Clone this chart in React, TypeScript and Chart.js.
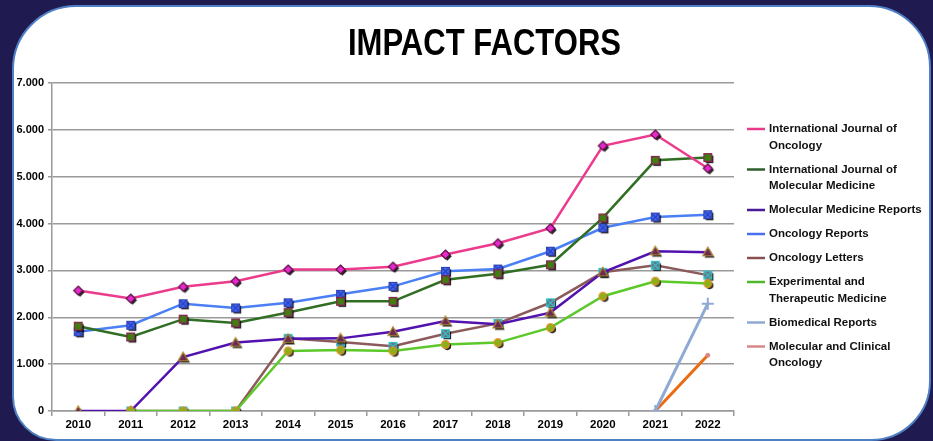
import React, { useEffect, useRef } from "react";
import { Chart, registerables } from "chart.js";

Chart.register(...registerables);

const years = ["2010", "2011", "2012", "2013", "2014", "2015", "2016", "2017", "2018", "2019", "2020", "2021", "2022"];

const seriesNames = [
  "International Journal of Oncology",
  "International Journal of Molecular Medicine",
  "Molecular Medicine Reports",
  "Oncology Reports",
  "Oncology Letters",
  "Experimental and Therapeutic Medicine",
  "Biomedical Reports",
  "Molecular and Clinical Oncology",
];

const legendLines = [
  ["International Journal of", "Oncology"],
  ["International Journal of", "Molecular Medicine"],
  ["Molecular Medicine Reports"],
  ["Oncology Reports"],
  ["Oncology Letters"],
  ["Experimental and", "Therapeutic Medicine"],
  ["Biomedical Reports"],
  ["Molecular and Clinical", "Oncology"],
];

const ijo = [2.57, 2.4, 2.65, 2.77, 3.02, 3.02, 3.08, 3.34, 3.58, 3.9, 5.66, 5.9, 5.18];
const ijmm = [1.81, 1.58, 1.96, 1.88, 2.1, 2.34, 2.34, 2.8, 2.93, 3.12, 4.12, 5.35, 5.41];
const mmr = [0, 0, 1.15, 1.46, 1.54, 1.55, 1.69, 1.92, 1.85, 2.1, 2.96, 3.41, 3.39];
const oncRep = [1.69, 1.83, 2.29, 2.2, 2.31, 2.49, 2.66, 2.98, 3.03, 3.41, 3.91, 4.14, 4.19];
const oncLet = [null, 0, 0, 0, 1.55, 1.47, 1.38, 1.65, 1.87, 2.31, 2.96, 3.11, 2.9];
const etm = [null, 0, 0, 0, 1.28, 1.3, 1.28, 1.42, 1.46, 1.78, 2.45, 2.77, 2.72];
const bioRep = [null, null, null, null, null, null, null, null, null, null, null, 0, 2.29];
const mco = [null, null, null, null, null, null, null, null, null, null, null, 0, 1.19];

const yTicks = [0, 1, 2, 3, 4, 5, 6, 7];

const lineColors = ["#ec3b8c", "#2f6e23", "#5212b0", "#4a7ff5", "#8c5a5a", "#5cc82a", "#8ea9d3", "#eb6a12"];
const legendColors = ["#e8388a", "#2e5e2a", "#4a1a9a", "#4a6ef0", "#8a5050", "#50b828", "#8ea9d3", "#d88888"];
const pointFills = ["#e62ad0", "#3f7f10", "#6b2a50", "#5070e8", "#7a5a5a", "#8cb01a", "#8ea9d3", "#d88888"];
const pointBorders = ["#5a1040", "#8a2050", "#b08a30", "#3040b0", "#33c3d3", "#e09020", "#8ea9d3", "#d88888"];
const pointStyles = ["rectRot", "rect", "triangle", "rect", "rect", "circle", "cross", "circle"];
const drawOrders = [0, 1, 2, 3, 4, -1, 6, 7];

const FONT = '"Liberation Sans", Arial, sans-serif';

function makeMarker(style: string, fill: string, border: string, size: number, cross: string | null) {
  const c = document.createElement("canvas");
  const S = size + 8;
  c.width = S;
  c.height = S;
  const ctx = c.getContext("2d")!;
  const r = size / 2;
  const draw = (ox: number, oy: number, f: string, b: string) => {
    const cx = S / 2 + ox;
    const cy = S / 2 + oy;
    ctx.beginPath();
    if (style === "rectRot") {
      ctx.moveTo(cx, cy - r);
      ctx.lineTo(cx + r, cy);
      ctx.lineTo(cx, cy + r);
      ctx.lineTo(cx - r, cy);
      ctx.closePath();
    } else if (style === "rect") {
      ctx.rect(cx - r * 0.85, cy - r * 0.85, r * 1.7, r * 1.7);
    } else if (style === "triangle") {
      ctx.moveTo(cx, cy - r);
      ctx.lineTo(cx + r, cy + r * 0.75);
      ctx.lineTo(cx - r, cy + r * 0.75);
      ctx.closePath();
    } else {
      ctx.arc(cx, cy, r * 0.85, 0, Math.PI * 2);
    }
    ctx.fillStyle = f;
    ctx.fill();
    if (b) {
      ctx.lineWidth = 1.2;
      ctx.strokeStyle = b;
      ctx.stroke();
    }
  };
  draw(1.8, 1.8, "rgba(0,0,0,0.85)", "");
  draw(0, 0, fill, border);
  if (cross) {
    const cx = S / 2;
    const cy = S / 2;
    const rr = r - 1.5;
    ctx.strokeStyle = cross;
    ctx.lineWidth = 1.5;
    ctx.beginPath();
    ctx.moveTo(cx - rr, cy - rr);
    ctx.lineTo(cx + rr, cy + rr);
    ctx.moveTo(cx + rr, cy - rr);
    ctx.lineTo(cx - rr, cy + rr);
    ctx.stroke();
  }
  return c;
}

const panelPlugin = {
  id: "titleLegend",
  afterDraw(chart: any) {
    const ctx = chart.ctx;
    ctx.save();
    ctx.font = `bold 37px ${FONT}`;
    const w = ctx.measureText("IMPACT FACTORS").width;
    ctx.translate(484.5, 55);
    ctx.scale(273 / w, 1);
    ctx.fillStyle = "#000";
    ctx.textAlign = "center";
    ctx.textBaseline = "alphabetic";
    ctx.fillText("IMPACT FACTORS", 0, 0);
    ctx.restore();

    ctx.save();
    ctx.font = `bold 11.5px ${FONT}`;
    ctx.textBaseline = "middle";
    ctx.textAlign = "left";
    let y = 129;
    const lineH = 16.5;
    const gap = 24;
    legendLines.forEach((lines, i) => {
      ctx.strokeStyle = legendColors[i];
      ctx.lineWidth = 2.5;
      ctx.beginPath();
      ctx.moveTo(747, y);
      ctx.lineTo(765, y);
      ctx.stroke();
      ctx.fillStyle = "#111";
      lines.forEach((t, k) => {
        ctx.fillText(t, 769, y + k * lineH);
      });
      y += (lines.length - 1) * lineH + gap;
    });
    ctx.restore();
  },
};

export default function App() {
  const ref = useRef<HTMLCanvasElement | null>(null);
  useEffect(() => {
    if (!ref.current) return;
    const crossCols = [null, null, null, "#2040d0", "#33c3d3", null, null, null];
    const data = [ijo, ijmm, mmr, oncRep, oncLet, etm, bioRep, mco];
    const datasets = data.map((d, i) => {
      let ps: any;
      if (i === 6) ps = "cross";
      else if (i === 7) ps = "circle";
      else ps = makeMarker(pointStyles[i], pointFills[i], pointBorders[i], i === 2 ? 10 : 9, crossCols[i]);
      return {
        label: seriesNames[i],
        data: d,
        order: drawOrders[i],
        borderColor: lineColors[i],
        backgroundColor: pointFills[i],
        borderWidth: i >= 6 ? 3 : 2.5,
        pointStyle: ps,
        pointRadius: i === 6 ? 6 : i === 7 ? 2 : 5,
        pointBorderColor: i >= 6 ? pointFills[i] : pointBorders[i],
        pointBorderWidth: i === 6 ? 2 : 1,
        tension: 0,
        spanGaps: false,
      };
    });
    const chart = new Chart(ref.current, {
      type: "line",
      data: { labels: years, datasets },
      options: {
        responsive: false,
        animation: false,
        layout: { padding: { left: 12, right: 199, top: 83, bottom: 0 } },
        plugins: { legend: { display: false }, title: { display: false }, tooltip: { enabled: false } },
        scales: {
          x: {
            offset: true,
            grid: { display: true, drawOnChartArea: false, drawTicks: true, tickLength: 5, color: "#9a9a9a", lineWidth: 1.5, offset: true },
            border: { color: "#9a9a9a", width: 1.5 },
            ticks: { color: "#000", font: { family: FONT, size: 11.5, weight: "bold" }, padding: 2, maxRotation: 0 },
            afterFit: (s: any) => { s.height = 30; },
          },
          y: {
            min: 0,
            max: 7,
            afterBuildTicks: (s: any) => { s.ticks = yTicks.map((v) => ({ value: v })); },
            grid: { color: "#9a9a9a", lineWidth: 1.5, tickLength: 4, drawTicks: true },
            border: { color: "#9a9a9a", width: 1.5 },
            ticks: {
              color: "#000",
              padding: 4,
              font: { family: FONT, size: 11, weight: "bold" },
              callback: (v: any) => (Number(v) === 0 ? "0" : Number(v).toFixed(3)),
            },
            afterFit: (s: any) => { s.width = 40; },
          },
        },
      },
      plugins: [panelPlugin],
    });
    return () => chart.destroy();
  }, []);

  return (
    <div style={{ position: "fixed", left: 0, top: 0, width: 933, height: 441, background: "#1f1a50", overflow: "hidden" }}>
      <div
        style={{
          position: "absolute",
          left: 12,
          top: 5,
          width: 915,
          height: 432,
          background: "#fff",
          border: "2px solid #4f7fc4",
          borderRadius: "64px 62px 60px 44px",
        }}
      />
      <canvas ref={ref} width={933} height={441} style={{ position: "absolute", left: 0, top: 0, width: 933, height: 441 }} />
    </div>
  );
}
